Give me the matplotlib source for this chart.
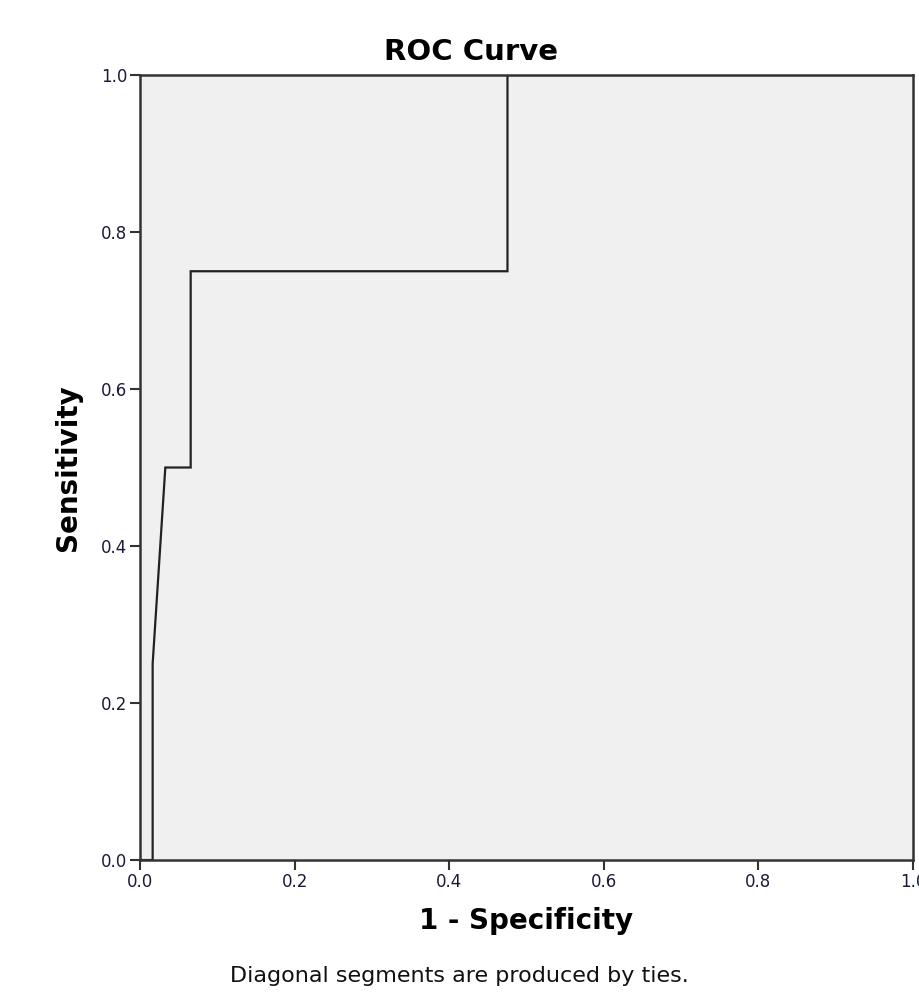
import matplotlib.pyplot as plt

# ROC curve points (1 - specificity, sensitivity)
fpr = [0.0, 0.0164, 0.0164, 0.0328, 0.0656, 0.0656, 0.4754, 0.4754, 1.0]
tpr = [0.0, 0.0, 0.25, 0.50, 0.50, 0.75, 0.75, 1.0, 1.0]
ticks = [0.0, 0.2, 0.4, 0.6, 0.8, 1.0]
tick_labels = ["0.0", "0.2", "0.4", "0.6", "0.8", "1.0"]

fig = plt.figure(figsize=(9.19, 10.08), dpi=100)
ax = fig.add_axes([0.1523, 0.1468, 0.8412, 0.7788])

ax.set_facecolor("#f0f0f0")
ax.plot(fpr, tpr, color="#222222", linewidth=1.6, solid_joinstyle="miter")

ax.set_xlim(0, 1)
ax.set_ylim(0, 1)
ax.set_xticks(ticks)
ax.set_xticklabels(tick_labels)
ax.set_yticks(ticks)
ax.set_yticklabels(tick_labels)
ax.tick_params(direction="out", length=7, width=1.5, color="#333333",
               labelsize=12, labelcolor="#1a1a3a", pad=2)

for side in ["left", "bottom", "top", "right"]:
    ax.spines[side].set_color("#333333")
    ax.spines[side].set_linewidth(1.8)

# title sits centred on the figure, not on the plot area
fig.text(0.5125, 0.948, "ROC Curve", ha="center", va="center",
         fontsize=21, fontweight="bold")
ax.set_xlabel("1 - Specificity", fontsize=20, fontweight="bold", labelpad=12)
ax.set_ylabel("Sensitivity", fontsize=20, fontweight="bold", labelpad=14)

fig.text(0.5, 0.032, "Diagonal segments are produced by ties.",
         ha="center", va="center", fontsize=16, color="#111111")

plt.savefig("out.png", dpi=100)
plt.close()
